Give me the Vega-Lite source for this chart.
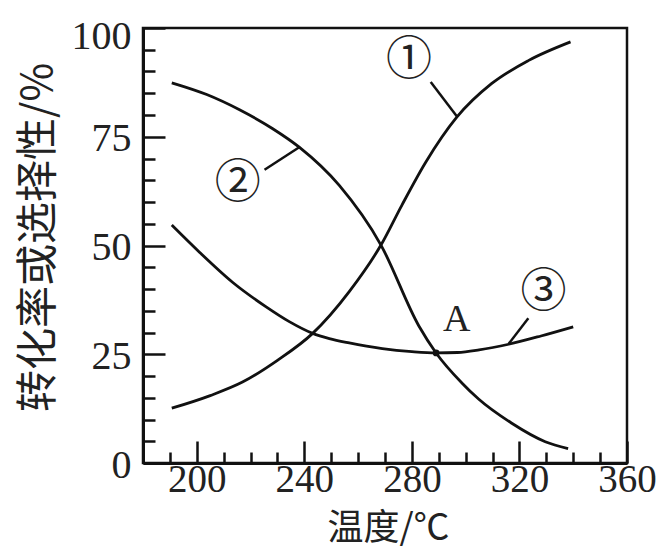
{
  "$schema": "https://vega.github.io/schema/vega-lite/v6.json",
  "width": 484,
  "height": 435,
  "autosize": {"type": "none"},
  "padding": {"left": 143, "top": 28, "right": 32, "bottom": 86},
  "background": "white",
  "config": {
    "view": {"stroke": "#111", "strokeWidth": 2.5},
    "font": "Liberation Serif"
  },
  "resolve": {"axis": {"x": "independent", "y": "independent"}},
  "datasets": {
    "curves": [
      {"s": "1", "t": 190.7, "v": 12.6},
      {"s": "1", "t": 205, "v": 15.5},
      {"s": "1", "t": 217, "v": 18.6},
      {"s": "1", "t": 230, "v": 23.6},
      {"s": "1", "t": 243.1, "v": 29.8},
      {"s": "1", "t": 256.7, "v": 39.4},
      {"s": "1", "t": 268.5, "v": 50.1},
      {"s": "1", "t": 276.3, "v": 59.3},
      {"s": "1", "t": 285.2, "v": 69.2},
      {"s": "1", "t": 296.7, "v": 79.5},
      {"s": "1", "t": 309.6, "v": 87.2},
      {"s": "1", "t": 323.3, "v": 92.5},
      {"s": "1", "t": 339, "v": 96.8},
      {"s": "2", "t": 190.7, "v": 87.4},
      {"s": "2", "t": 203.7, "v": 84.7},
      {"s": "2", "t": 215.9, "v": 81.2},
      {"s": "2", "t": 228.1, "v": 76.9},
      {"s": "2", "t": 238.1, "v": 72.6},
      {"s": "2", "t": 253, "v": 63.8},
      {"s": "2", "t": 268.5, "v": 50.1},
      {"s": "2", "t": 282.6, "v": 31.5},
      {"s": "2", "t": 289, "v": 25.3},
      {"s": "2", "t": 298.6, "v": 18.4},
      {"s": "2", "t": 304.8, "v": 14.7},
      {"s": "2", "t": 317, "v": 9.2},
      {"s": "2", "t": 329.6, "v": 4.9},
      {"s": "2", "t": 338.1, "v": 3.3},
      {"s": "3", "t": 190.7, "v": 54.7},
      {"s": "3", "t": 201.1, "v": 48.4},
      {"s": "3", "t": 213.4, "v": 41.5},
      {"s": "3", "t": 225.8, "v": 35.9},
      {"s": "3", "t": 234.4, "v": 32.5},
      {"s": "3", "t": 243.1, "v": 29.8},
      {"s": "3", "t": 249.3, "v": 28.6},
      {"s": "3", "t": 256.7, "v": 27.6},
      {"s": "3", "t": 269, "v": 26.3},
      {"s": "3", "t": 280, "v": 25.6},
      {"s": "3", "t": 289, "v": 25.3},
      {"s": "3", "t": 297, "v": 25.4},
      {"s": "3", "t": 305, "v": 26},
      {"s": "3", "t": 316, "v": 27.3},
      {"s": "3", "t": 328, "v": 29.2},
      {"s": "3", "t": 340, "v": 31.3}
    ],
    "leaders": [
      {"s": "1", "t": 287, "v": 87.6, "t2": 296.7, "v2": 79.7},
      {"s": "2", "t": 225.2, "v": 67.4, "t2": 238.1, "v2": 72.6},
      {"s": "3", "t": 323.3, "v": 33.3, "t2": 316, "v2": 27.4}
    ],
    "circled": [
      {"label": "①", "t": 278.9, "v": 92.6},
      {"label": "②", "t": 215.2, "v": 64.4},
      {"label": "③", "t": 328.9, "v": 39.3}
    ],
    "pointA": [
      {"label": "A", "t": 289, "v": 25.3, "lt": 296.7, "lv": 32.9}
    ]
  },
  "layer": [
    {
      "data": {"name": "curves"},
      "mark": {"type": "line", "interpolate": "monotone", "color": "#111", "strokeWidth": 2.8},
      "encoding": {
        "x": {
          "field": "t", "type": "quantitative",
          "scale": {"domain": [180, 360], "nice": false, "zero": false},
          "axis": {
            "orient": "bottom",
            "values": [200, 240, 280, 320, 360],
            "domainColor": "#111", "domainWidth": 3,
            "tickColor": "#111", "tickWidth": 2.5, "tickSize": -22,
            "labelFont": "Liberation Serif", "labelFontSize": 39, "labelColor": "#222",
            "labelPadding": 19, "labelBaseline": "top", "labelFlush": false, "labelOverlap": false,
            "grid": false,
            "title": "温度/℃", "titleFont": "Noto Sans CJK SC", "titleFontSize": 36, "titleFontWeight": "normal", "titleColor": "#222",
            "titleX": 245, "titleY": 65, "titleAlign": "center", "titleBaseline": "middle"
          }
        },
        "y": {
          "field": "v", "type": "quantitative",
          "scale": {"domain": [0, 100], "nice": false},
          "axis": {
            "orient": "left",
            "values": [0, 25, 50, 75, 100],
            "domainColor": "#111", "domainWidth": 3,
            "tickColor": "#111", "tickWidth": 2.5, "tickSize": -22,
            "labelFont": "Liberation Serif", "labelFontSize": 40, "labelColor": "#222",
            "labelPadding": 34, "labelBaseline": "middle", "labelAlign": "right", "labelFlush": false, "labelOverlap": false,
            "labelOffset": {"condition": {"test": "datum.value >= 100", "value": 8}, "value": 2},
            "grid": false,
            "title": "转化率或选择性/%", "titleFont": "Noto Sans CJK SC", "titleFontSize": 42, "titleFontWeight": "normal", "titleColor": "#222",
            "titleX": -105, "titleY": 209, "titleAngle": -90, "titleAlign": "center", "titleBaseline": "middle"
          }
        },
        "detail": {"field": "s"}
      }
    },
    {
      "data": {"name": "leaders"},
      "mark": {"type": "rule", "color": "#111", "strokeWidth": 2.5},
      "encoding": {
        "x": {
          "field": "t", "type": "quantitative",
          "axis": {
            "orient": "bottom",
            "values": [190, 210, 220, 230, 250, 260, 270, 290, 300, 310, 330, 340, 350],
            "domain": false, "labels": false, "grid": false, "title": null,
            "tickColor": "#111", "tickWidth": 2.5, "tickSize": -11
          }
        },
        "y": {
          "field": "v", "type": "quantitative",
          "axis": {
            "orient": "left",
            "values": [5, 10, 15, 20, 30, 35, 40, 45, 55, 60, 65, 70, 80, 85, 90, 95],
            "domain": false, "labels": false, "grid": false, "title": null,
            "tickColor": "#111", "tickWidth": 2.5, "tickSize": -12
          }
        },
        "x2": {"field": "t2"},
        "y2": {"field": "v2"}
      }
    },
    {
      "data": {"name": "circled"},
      "mark": {"type": "text", "font": "Noto Sans CJK SC", "fontSize": 46, "color": "#222", "align": "center", "baseline": "middle"},
      "encoding": {
        "x": {"field": "t", "type": "quantitative", "axis": null},
        "y": {"field": "v", "type": "quantitative", "axis": null},
        "text": {"field": "label"}
      }
    },
    {
      "data": {"name": "pointA"},
      "mark": {"type": "point", "filled": true, "color": "#111", "size": 45, "opacity": 1},
      "encoding": {
        "x": {"field": "t", "type": "quantitative", "axis": null},
        "y": {"field": "v", "type": "quantitative", "axis": null}
      }
    },
    {
      "data": {"name": "pointA"},
      "mark": {"type": "text", "font": "Liberation Serif", "fontSize": 38, "color": "#222", "align": "center", "baseline": "middle"},
      "encoding": {
        "x": {"field": "lt", "type": "quantitative", "axis": null},
        "y": {"field": "lv", "type": "quantitative", "axis": null},
        "text": {"field": "label"}
      }
    }
  ]
}
